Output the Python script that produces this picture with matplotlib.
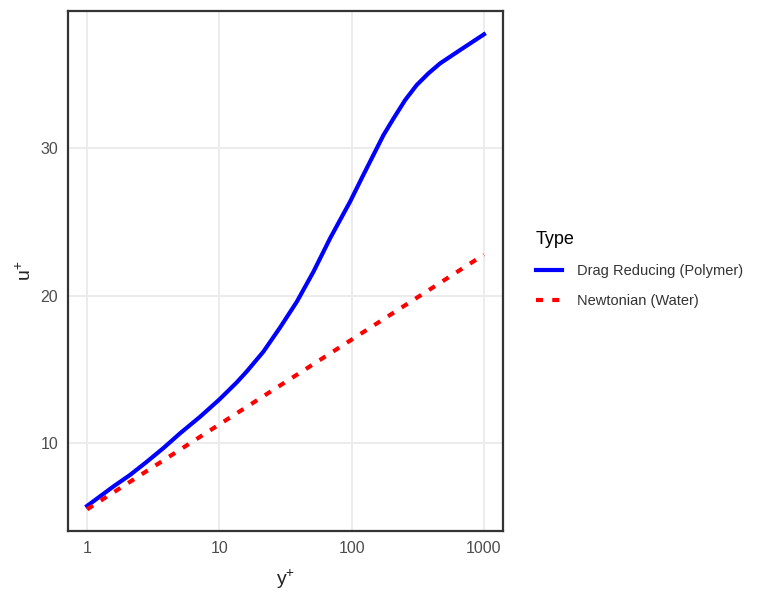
import matplotlib
matplotlib.use("Agg")
import matplotlib.pyplot as plt
from matplotlib.ticker import FixedLocator, NullLocator, FixedFormatter

plt.rcParams['font.family'] = ['Liberation Sans', 'DejaVu Sans']
plt.rcParams['mathtext.fontset'] = 'custom'
plt.rcParams['mathtext.rm'] = 'Liberation Sans'

# values
y_plus_dr = [1, 1.58, 2.11, 2.83, 3.77, 5.05, 7.15, 10, 13.5, 16.1, 21.5,
             28.8, 38.5, 51.4, 68.7, 97.2, 119, 146, 174, 207, 253.5, 310,
             380, 466, 659, 1000]
u_plus_dr = [5.73, 7.05, 7.83, 8.73, 9.65, 10.66, 11.78, 12.95, 14.1, 14.85,
             16.19, 17.84, 19.58, 21.61, 23.88, 26.36, 27.95, 29.53, 30.88,
             32.0, 33.25, 34.27, 35.06, 35.74, 36.64, 37.71]

y_plus_newt = [1, 10, 100, 1000]
u_plus_newt = [5.5, 11.26, 17.01, 22.77]

x_ticks = [1, 10, 100, 1000]
x_labels = ['1', '10', '100', '1000']
y_ticks = [10, 20, 30]

fig = plt.figure(figsize=(7.61, 5.96), dpi=100)
ax = fig.add_axes([0.0894, 0.109, 0.5716, 0.8725])

ax.plot(y_plus_dr, u_plus_dr, color='#0000FF', linewidth=3,
        solid_joinstyle='round', label='Drag Reducing (Polymer)')
ax.plot(y_plus_newt, u_plus_newt, color='#FF0000', linewidth=3,
        dashes=(1.7, 2.2), label='Newtonian (Water)')

ax.set_xscale('log')
ax.set_xlim(10 ** -0.144, 10 ** 3.144)
ax.set_ylim(4.03, 39.29)
ax.xaxis.set_major_locator(FixedLocator(x_ticks))
ax.xaxis.set_major_formatter(FixedFormatter(x_labels))
ax.xaxis.set_minor_locator(NullLocator())
ax.yaxis.set_major_locator(FixedLocator(y_ticks))

ax.grid(True, color='#EBEBEB', linewidth=1.3)
ax.set_axisbelow(True)
ax.tick_params(length=0, labelsize=11.5, labelcolor='#4D4D4D', pad=7)
for s in ax.spines.values():
    s.set_color('#333333')
    s.set_linewidth(1.6)

ax.set_xlabel(r'y$^{+}$', fontsize=14, color='#222222', labelpad=8)
ax.set_ylabel(r'u$^{+}$', fontsize=14, color='#222222', labelpad=4)

leg = ax.legend(title='Type', loc='upper left', bbox_to_anchor=(1.045, 0.603),
                frameon=False, fontsize=10.5, title_fontsize=13,
                handlelength=1.8, handletextpad=1.0, labelspacing=1.1,
                alignment='left')
for t in leg.get_texts():
    t.set_color('#333333')

fig.savefig('out.png', dpi=100)
